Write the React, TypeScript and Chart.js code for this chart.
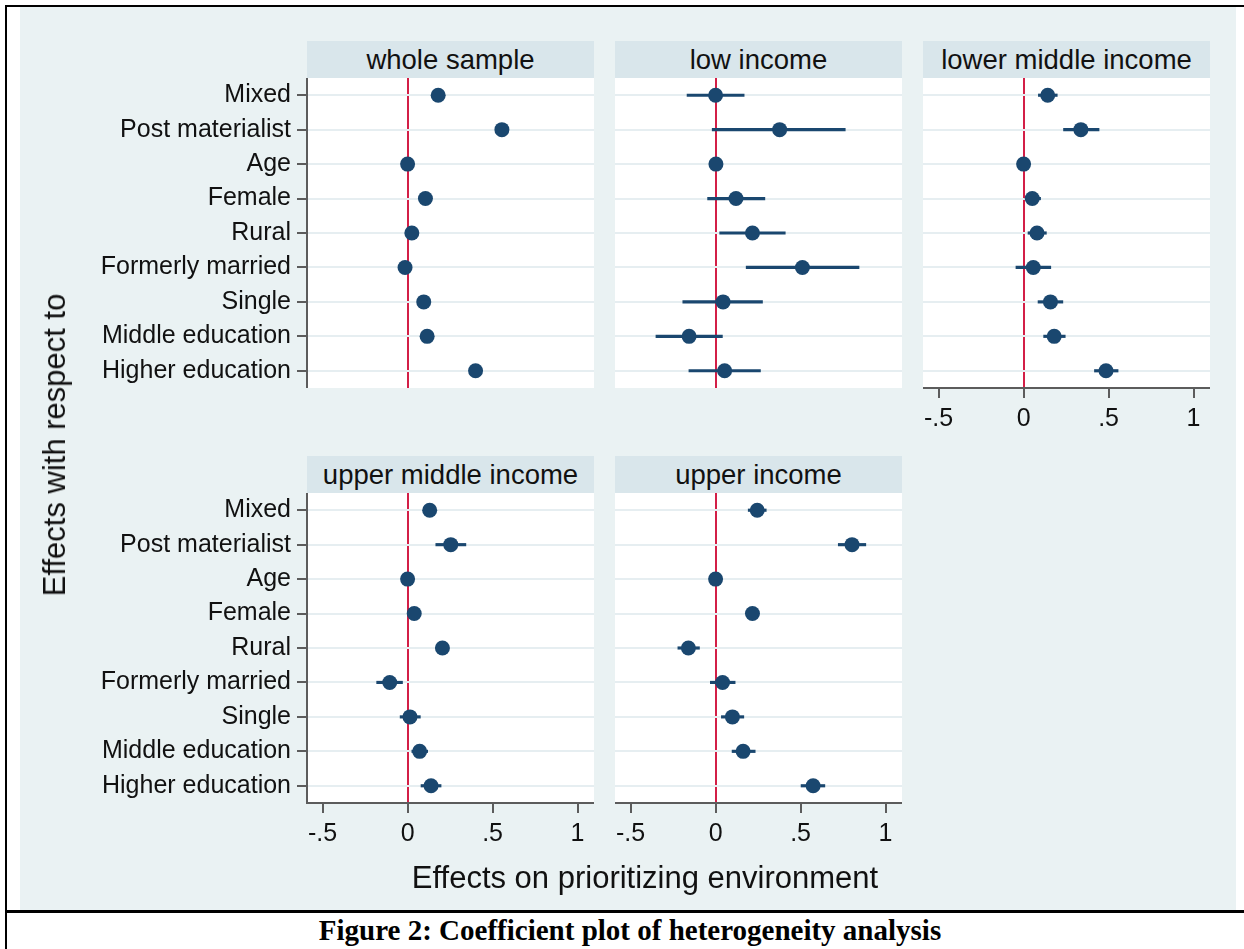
import React, { useEffect, useRef } from "react";
import { Chart, registerables } from "chart.js";

Chart.register(...registerables);

// ---------------- data ----------------
const CATEGORIES = [
  "Mixed",
  "Post materialist",
  "Age",
  "Female",
  "Rural",
  "Formerly married",
  "Single",
  "Middle education",
  "Higher education",
];

const X_TICKS = [-0.5, 0, 0.5, 1];
const X_TICK_LABELS = ["-.5", "0", ".5", "1"];
const X_MIN = -0.592;
const X_MAX = 1.097;

const PANEL_TITLES = [
  "whole sample",
  "low income",
  "lower middle income",
  "upper middle income",
  "upper income",
];

const WHOLE_EST = [0.18, 0.555, 0.0, 0.105, 0.025, -0.015, 0.095, 0.115, 0.4];
const WHOLE_LO = [0.165, 0.535, -0.004, 0.09, 0.01, -0.035, 0.08, 0.1, 0.38];
const WHOLE_HI = [0.195, 0.575, 0.004, 0.12, 0.04, 0.005, 0.11, 0.13, 0.42];

const LOW_EST = [0.0, 0.377, 0.002, 0.12, 0.217, 0.511, 0.044, -0.156, 0.053];
const LOW_LO = [-0.168, -0.02, -0.004, -0.047, 0.024, 0.18, -0.193, -0.351, -0.157];
const LOW_HI = [0.168, 0.763, 0.008, 0.29, 0.41, 0.844, 0.276, 0.04, 0.264];

const LOWMID_EST = [0.142, 0.337, 0.0, 0.051, 0.079, 0.057, 0.158, 0.18, 0.485];
const LOWMID_LO = [0.087, 0.235, -0.004, 0.01, 0.026, -0.045, 0.085, 0.118, 0.417];
const LOWMID_HI = [0.198, 0.444, 0.004, 0.1, 0.134, 0.16, 0.231, 0.245, 0.556];

const UPMID_EST = [0.13, 0.254, 0.0, 0.039, 0.205, -0.105, 0.014, 0.071, 0.138];
const UPMID_LO = [0.1, 0.166, -0.004, 0.008, 0.175, -0.182, -0.044, 0.025, 0.079];
const UPMID_HI = [0.16, 0.343, 0.004, 0.07, 0.235, -0.03, 0.075, 0.118, 0.197];

const UPPER_EST = [0.245, 0.803, 0.0, 0.217, -0.16, 0.041, 0.099, 0.162, 0.574];
const UPPER_LO = [0.192, 0.722, -0.004, 0.19, -0.222, -0.031, 0.034, 0.097, 0.503];
const UPPER_HI = [0.298, 0.884, 0.004, 0.245, -0.095, 0.115, 0.166, 0.233, 0.643];

// ---------------- styles / layout ----------------
const NAVY = "#1a476f";
const RED = "#d31f47";
const GRID = "#e6eef1";
const AXIS = "#5c5c5c";
const TEXT = "#111111";
const BG = "#eaf2f3";
const HEADER_BG = "#d9e6eb";
const SANS = "'Liberation Sans', Arial, Helvetica, sans-serif";

const PLOT_W = 287;
const PLOT_H = 310;
const Y_AXIS_W = 287;
const X_AXIS_H = 64;
const HEADER_H = 37;

Chart.defaults.font.family = SANS;

type PanelSpec = {
  title: string;
  est: number[];
  lo: number[];
  hi: number[];
  left: number;
  top: number;
  showY: boolean;
  showX: boolean;
};

const PANELS: PanelSpec[] = [
  { title: PANEL_TITLES[0], est: WHOLE_EST, lo: WHOLE_LO, hi: WHOLE_HI, left: 307, top: 78, showY: true, showX: false },
  { title: PANEL_TITLES[1], est: LOW_EST, lo: LOW_LO, hi: LOW_HI, left: 615, top: 78, showY: false, showX: false },
  { title: PANEL_TITLES[2], est: LOWMID_EST, lo: LOWMID_LO, hi: LOWMID_HI, left: 923, top: 78, showY: false, showX: true },
  { title: PANEL_TITLES[3], est: UPMID_EST, lo: UPMID_LO, hi: UPMID_HI, left: 307, top: 493, showY: true, showX: true },
  { title: PANEL_TITLES[4], est: UPPER_EST, lo: UPPER_LO, hi: UPPER_HI, left: 615, top: 493, showY: false, showX: true },
];

function Panel({ spec }: { spec: PanelSpec }) {
  const ref = useRef<HTMLCanvasElement>(null);
  const yw = spec.showY ? Y_AXIS_W : 0;
  const xh = spec.showX ? X_AXIS_H : 0;
  const cw = PLOT_W + yw;
  const ch = PLOT_H + xh;

  useEffect(() => {
    if (!ref.current) return;
    const chart = new Chart(ref.current, {
      type: "bar",
      data: {
        labels: CATEGORIES,
        datasets: [
          {
            type: "line",
            label: "estimate",
            data: spec.est,
            indexAxis: "y",
            showLine: false,
            pointRadius: 7.5,
            pointHoverRadius: 7.5,
            pointBackgroundColor: NAVY,
            pointBorderWidth: 0,
            borderColor: NAVY,
            order: 0,
            clip: false,
          } as any,
          {
            type: "bar",
            label: "ci",
            data: spec.lo.map((l, i) => [l, spec.hi[i]]),
            indexAxis: "y",
            backgroundColor: NAVY,
            barThickness: 2.5,
            borderWidth: 0,
            borderSkipped: false,
            order: 1,
          } as any,
        ],
      },
      options: {
        indexAxis: "y",
        animation: false,
        responsive: false,
        events: [],
        layout: { padding: 0, autoPadding: false },
        plugins: { legend: { display: false }, tooltip: { enabled: false } },
        scales: {
          x: {
            type: "linear",
            min: X_MIN,
            max: X_MAX,
            afterBuildTicks: (s: any) => {
              s.ticks = X_TICKS.map((v) => ({ value: v }));
            },
            afterFit: (s: any) => {
              s.height = xh;
              s.paddingLeft = 0;
              s.paddingRight = 0;
            },
            grid: {
              color: (c: any) => (c.tick && c.tick.value === 0 ? RED : "rgba(0,0,0,0)"),
              lineWidth: 2,
              drawTicks: spec.showX,
              tickLength: 10,
              tickColor: AXIS,
              tickWidth: 2,
            },
            border: { display: spec.showX, color: AXIS, width: 2 },
            ticks: {
              display: spec.showX,
              callback: (v: any) => X_TICK_LABELS[X_TICKS.indexOf(Number(v))],
              font: { size: 25 },
              color: TEXT,
              padding: 6,
              maxRotation: 0,
              autoSkip: false,
            },
          } as any,
          y: {
            type: "category",
            offset: true,
            afterFit: (s: any) => {
              s.width = yw;
              s.paddingTop = 0;
              s.paddingBottom = 0;
            },
            grid: {
              offset: false,
              color: GRID,
              lineWidth: 2,
              drawTicks: spec.showY,
              tickLength: 10,
              tickColor: AXIS,
              tickWidth: 2,
            },
            border: { display: spec.showY, color: AXIS, width: 2 },
            ticks: {
              display: spec.showY,
              font: { size: 25 },
              color: TEXT,
              padding: 6,
              autoSkip: false,
            },
          } as any,
        },
      },
    });
    return () => chart.destroy();
  }, []);

  return (
    <>
      <div
        style={{
          position: "absolute",
          left: spec.left,
          top: spec.top - HEADER_H,
          width: PLOT_W,
          height: HEADER_H,
          background: HEADER_BG,
          display: "flex",
          alignItems: "center",
          justifyContent: "center",
          fontSize: 27.5,
          color: TEXT,
          whiteSpace: "nowrap",
        }}
      >
        {spec.title}
      </div>
      <div
        style={{
          position: "absolute",
          left: spec.left,
          top: spec.top,
          width: PLOT_W,
          height: PLOT_H,
          background: "#ffffff",
        }}
      />
      <canvas
        ref={ref}
        width={cw}
        height={ch}
        style={{ position: "absolute", left: spec.left - yw, top: spec.top, width: cw, height: ch }}
      />
    </>
  );
}

export default function App() {
  useEffect(() => {
    document.body.style.margin = "0";
  }, []);
  return (
    <div
      style={{
        position: "absolute",
        left: 0,
        top: 0,
        width: 1244,
        height: 949,
        background: "#ffffff",
        overflow: "hidden",
        fontFamily: SANS,
      }}
    >
      <div style={{ position: "absolute", left: 20, top: 7, width: 1216, height: 903, background: BG }} />
      <div style={{ position: "absolute", left: 5, top: 5, width: 1239, height: 2, background: "#000" }} />
      <div style={{ position: "absolute", left: 5, top: 5, width: 2, height: 944, background: "#000" }} />
      <div style={{ position: "absolute", left: 5, top: 910, width: 1239, height: 3, background: "#000" }} />

      {PANELS.map((p, i) => (
        <Panel key={i} spec={p} />
      ))}

      <div
        style={{
          position: "absolute",
          left: 55,
          top: 445,
          transform: "translate(-50%, -50%) rotate(-90deg)",
          fontSize: 31,
          color: TEXT,
          whiteSpace: "nowrap",
        }}
      >
        Effects with respect to
      </div>
      <div
        style={{
          position: "absolute",
          left: 645,
          top: 878,
          transform: "translate(-50%, -50%)",
          fontSize: 31,
          color: TEXT,
          whiteSpace: "nowrap",
        }}
      >
        Effects on prioritizing environment
      </div>
      <div
        style={{
          position: "absolute",
          left: 630,
          top: 930,
          transform: "translate(-50%, -50%)",
          fontSize: 29,
          fontWeight: "bold",
          fontFamily: "'Liberation Serif', 'Times New Roman', serif",
          color: "#000",
          whiteSpace: "nowrap",
        }}
      >
        Figure 2: Coefficient plot of heterogeneity analysis
      </div>
    </div>
  );
}
